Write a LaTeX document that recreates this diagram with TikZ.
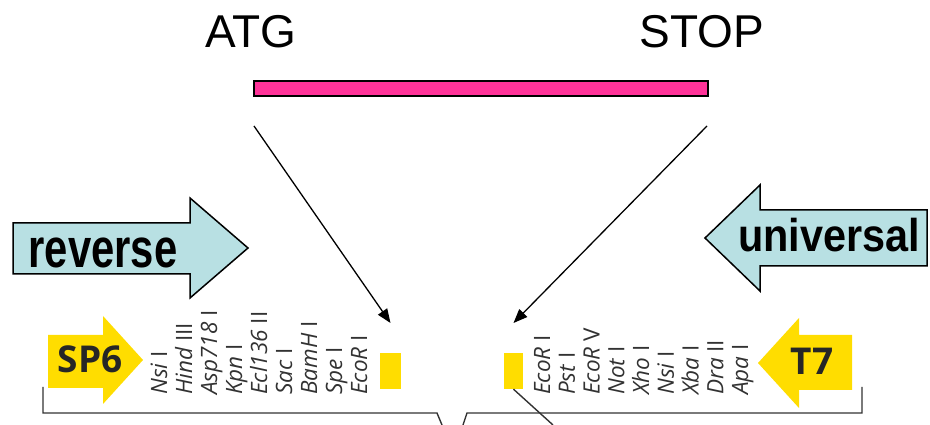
\documentclass[tikz,border=0pt]{standalone}
\usepackage{fontspec}
\setmainfont{Liberation Sans}
\newfontfamily\mapfont{Open Sans}
\usetikzlibrary{arrows.meta}

\definecolor{orfpink}{RGB}{255,51,153}
\definecolor{primerblue}{RGB}{184,224,227}
\definecolor{promyellow}{RGB}{255,221,0}
\definecolor{mapgrey}{RGB}{50,50,50}

\begin{document}
\begin{tikzpicture}[
    x=1pt, y=1pt,
    codon/.style={font=\fontsize{46}{54}\selectfont, inner sep=0pt},
    orf/.style={draw, line width=1.5pt, fill=orfpink, minimum width=454pt, minimum height=15pt, inner sep=0pt},
    insert/.style={-{Triangle[length=14pt, width=11pt]}, line width=1.3pt},
    primer/.style={draw, line width=1.5pt, fill=primerblue, line join=miter},
    primertext/.style={font=\bfseries\fontsize{#1}{#1}\selectfont, inner sep=0pt},
    promoter/.style={fill=promyellow},
    promtext/.style={font=\mapfont\bfseries\fontsize{37}{40}\selectfont, text=black!85, inner sep=0pt},
    site/.style={rotate=90, anchor=base west, inner sep=0pt, text=mapgrey, font=\mapfont\fontsize{22.5}{26}\selectfont},
    polylinker/.style={fill=promyellow, minimum height=36pt, inner sep=0pt},
    bracket/.style={draw=mapgrey, line width=1.4pt}
]
    \useasboundingbox (0,0) rectangle (930,425);

    % open reading frame
    \node[codon] (atg) at (251,393) {ATG};
    \node[codon] (stop) at (702,393) {STOP};
    \node[orf] (orf) at (481,336.5) {};

    % primer arrows
    \draw[primer] (13,151) -- (190,151) -- (190,127) -- (248,177) -- (190,227) -- (190,202) -- (13,202) -- cycle;
    \node[primertext=55] (rev) at (103,172.5) {\scalebox{0.76}[1]{reverse}};
    \draw[primer] (927,159) -- (760,159) -- (760,134) -- (705,187) -- (760,240) -- (760,215) -- (927,215) -- cycle;
    \node[primertext=46] (uni) at (829,190) {\scalebox{0.9}[1]{universal}};

    % promoters
    \path[promoter] (48,37) -- (103,37) -- (103,21) -- (143,65) -- (103,109) -- (103,90) -- (48,90) -- cycle;
    \node[promtext] (sp6) at (90,66) {SP6};
    \path[promoter] (852,35) -- (799,35) -- (799,17) -- (758,62) -- (799,107) -- (799,90) -- (852,90) -- cycle;
    \node[promtext] (t7) at (812,64) {T7};

    % cloning sites
    \node[polylinker, minimum width=21pt] (mcsA) at (390.5,54) {};
    \node[polylinker, minimum width=19pt] (mcsB) at (513.5,54) {};

    \foreach \enz [count=\i from 0] in {\textit{Nsi} I, \textit{Hind} III, \textit{Asp718} I, \textit{Kpn} I,
        \textit{Ecl136} II, \textit{Sac} I, \textit{BamH} I, \textit{Spe} I, \textit{EcoR} I}
        \node[site] (siteA\i) at (167+25*\i,30) {\enz};
    \foreach \enz [count=\i from 0] in {\textit{EcoR} I, \textit{Pst} I, \textit{EcoR} V, \textit{Not} I,
        \textit{Xho} I, \textit{Nsi} I, \textit{Xba} I, \textit{Dra} II, \textit{Apa} I}
        \node[site] (siteB\i) at (550+24.75*\i,30) {\enz};

    % insertion arrows
    \coordinate (atgdrop) at (254,299);
    \coordinate (stopdrop) at (707,299);
    \coordinate (atgtip) at (390.5,102);
    \coordinate (stoptip) at (513.5,102);
    \draw[insert] (atgdrop) -- (atgtip);
    \draw[insert] (stopdrop) -- (stoptip);

    % brackets
    \draw[bracket] (43,38) |- (437,12) -- (442,0);
    \draw[bracket] (463,0) -- (467,12) -| (862,38);
    \draw[bracket] (mcsB.south) -- (553,0);
\end{tikzpicture}
\end{document}
